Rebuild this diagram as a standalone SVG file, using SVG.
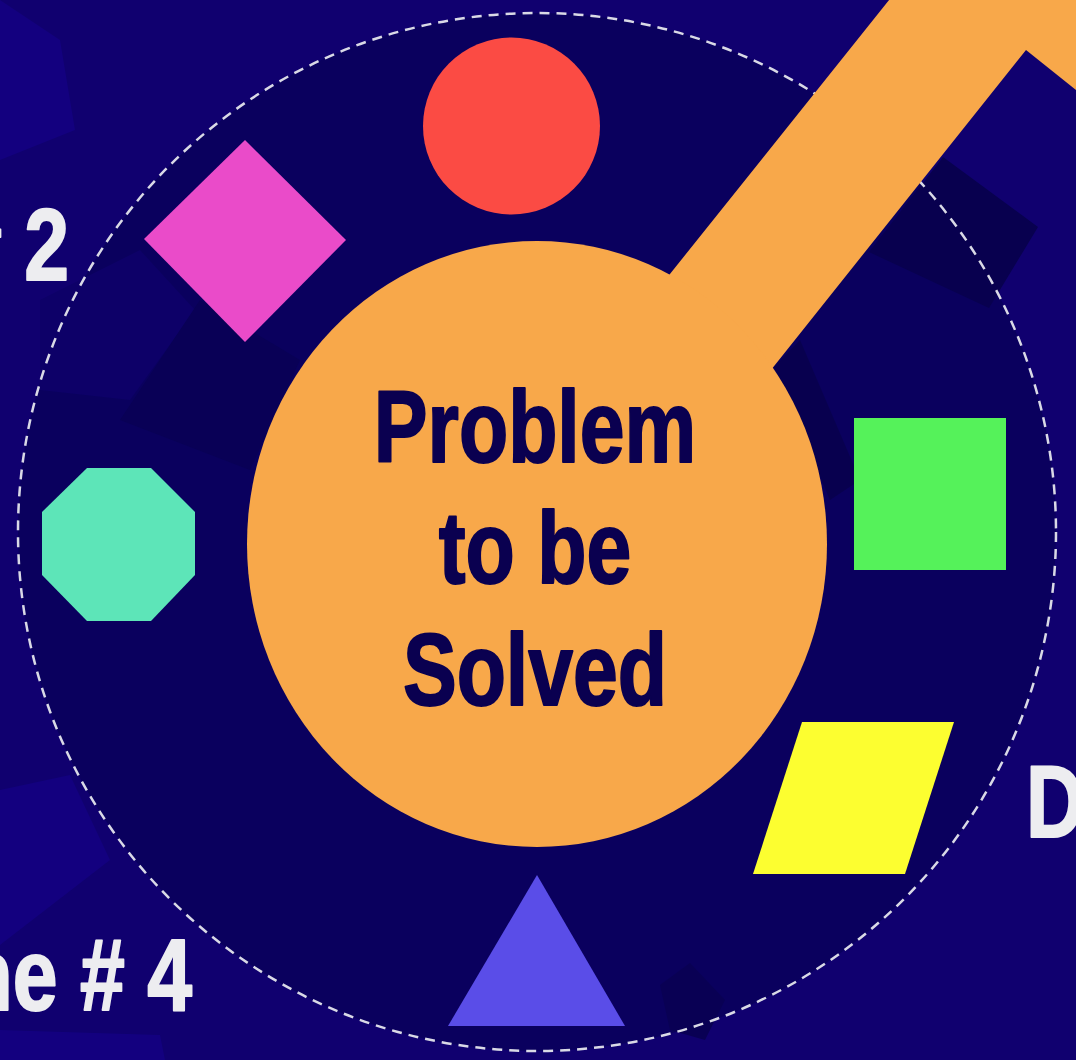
<svg xmlns="http://www.w3.org/2000/svg" width="1076" height="1060" viewBox="0 0 1076 1060">
  <style>
    .lbl { font-family: "Liberation Sans", Arial, sans-serif; font-weight: bold; font-size: 102px; stroke-width: 2; stroke-linejoin: round; }
    .outer { fill: #ededf0; stroke: #ededf0; }
    .inner { fill: #0a0050; stroke: #0a0050; text-anchor: middle; }
    .shadow { fill: #08004f; }
    .light { fill: #13007f; }
  </style>
  <rect id="background" x="0" y="0" width="1076" height="1060" fill="#10006f"/>
  <g id="background-shapes">
    <polygon class="light" points="0,0 60,40 75,130 0,160"/>
    <polygon class="light" points="0,790 70,775 110,860 0,945"/>
    <polygon class="light" points="0,1030 160,1035 165,1060 0,1060"/>
  </g>
  <circle id="ring-fill" cx="537" cy="532" r="519" fill="#0a005e"/>
  <g id="inner-shapes">
    <polygon points="40,300 140,250 195,310 130,400 40,390" fill="#0d0068"/>
    <polygon points="120,420 200,300 300,360 250,470" fill="#090056"/>
    <polygon class="shadow" points="869,252 943,157 1038,227 989,308"/>
    <polygon class="shadow" points="774,367 800,340 860,480 830,500"/>
    <polygon points="660,985 690,963 725,1000 705,1040 670,1030" fill="#090054"/>
  </g>
  <circle id="dashed-ring" cx="537" cy="532" r="519" fill="none" stroke="#d9d9e6" stroke-width="2.5" stroke-dasharray="10 7"/>
  <g id="connectors">
    <polygon id="arrow" points="582,384 1001,-140 1300,-200 1120,125 1026,50 680,484" fill="#f8a84a"/>
  </g>
  <g id="node-center">
    <ellipse cx="537" cy="544" rx="290" ry="303" fill="#f8a84a"/>
    <g transform="translate(535 0) scale(0.79 1)">
      <text class="lbl inner" x="0" y="462">Problem</text>
      <text class="lbl inner" x="0" y="583">to be</text>
      <text class="lbl inner" x="0" y="705">Solved</text>
    </g>
  </g>
  <g id="node-circle"><circle cx="511.5" cy="126" r="88.5" fill="#fb4b44"/></g>
  <g id="node-diamond"><polygon points="245,140 346,240 245,342 144,239" fill="#ea4bc9"/></g>
  <g id="node-octagon"><polygon points="87,468 151,468 195,512 195,575 151,621 87,621 42,575 42,512" fill="#5de5b8"/></g>
  <g id="node-square"><rect x="854" y="418" width="152" height="152" fill="#55f25a"/></g>
  <g id="node-parallelogram"><polygon points="802,722 954,722 905,874 753,874" fill="#fcfe30"/></g>
  <g id="node-triangle"><polygon points="537,875 625,1026 448,1026" fill="#5a4de8"/></g>
  <g id="labels">
    <text class="lbl outer" text-anchor="end" transform="translate(69 280) scale(0.79 1)"># 2</text>
    <text class="lbl outer" text-anchor="end" transform="translate(192 1010) scale(0.79 1)">ne # 4</text>
    <text class="lbl outer" transform="translate(1026 837) scale(0.79 1)">D</text>
    <text class="lbl outer" transform="translate(1072 533) scale(0.79 1)">M</text>
  </g>
</svg>
